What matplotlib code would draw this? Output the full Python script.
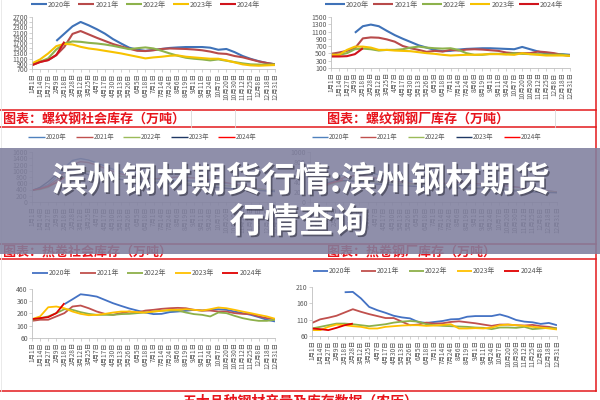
import numpy as np
import matplotlib
matplotlib.use("Agg")
import matplotlib.pyplot as plt
from matplotlib.lines import Line2D
from matplotlib.patches import Rectangle
import matplotlib.patheffects as pe

plt.rcParams['font.family'] = ['Noto Sans CJK SC', 'DejaVu Sans']

W, H = 600, 400
nan = np.nan

# x 轴日期（农历对齐）
dates = ['1月1日', '1月14日', '1月27日', '2月9日', '2月18日', '2月28日', '3月12日', '3月25日',
         '4月7日', '4月17日', '4月30日', '5月13日', '5月26日', '6月5日', '6月18日', '7月1日',
         '7月14日', '7月24日', '8月6日', '8月19日', '9月1日', '9月11日', '9月24日', '10月7日',
         '10月20日', '10月30日', '11月12日', '11月25日', '12月8日', '12月18日', '12月31日']
years = ['2020年', '2021年', '2022年', '2023年', '2024年']

# 螺纹钢社会库存
rs_2020 = [nan, nan, nan, 1780, 2060, 2340, 2510, 2380, 2230, 2060, 1850, 1680, 1520, 1440, 1400, 1430,
           1470, 1510, 1530, 1545, 1545, 1545, 1520, 1440, 1470, 1350, 1200, 1090, 1000, 930, 880]
rs_2021 = [850, 980, 1040, 1235, 1553, 2050, 2160, 2030, 1900, 1780, 1660, 1570, 1480, 1400, 1390, 1420,
           1470, 1490, 1480, 1470, 1450, 1420, 1370, 1300, 1280, 1200, 1150, 1070, 990, 930, 880]
rs_2022 = [880, 980, 1110, 1450, 1680, 1760, 1745, 1706, 1681, 1643, 1592, 1528, 1464, 1500, 1530, 1490,
           1400, 1299, 1209, 1133, 1095, 1069, 1031, 1069, 1018, 967, 916, 878, 870, 870, 878]
rs_2023 = [916, 1069, 1299, 1579, 1668, 1643, 1553, 1490, 1451, 1400, 1350, 1299, 1235, 1172, 1108, 1146,
           1172, 1209, 1222, 1172, 1146, 1120, 1095, 1095, 1031, 955, 878, 840, 827, 840, 853]
rs_2024 = [850, 967, 1044, 1235, 1750] + [nan] * 26

# 螺纹钢钢厂库存
rm_2020 = [nan, nan, nan, 1067, 1247, 1292, 1247, 1121, 1003, 904, 814, 723, 660, 597, 561, 570,
           606, 624, 633, 642, 642, 633, 624, 615, 678, 615, 552, 498, 480, 480, 462]
rm_2021 = [489, 525, 570, 642, 913, 940, 931, 886, 823, 705, 642, 597, 543, 570, 552, 597,
           579, 606, 615, 606, 588, 570, 525, 507, 507, 507, 552, 534, 507, 462, 434]
rm_2022 = [462, 462, 507, 615, 633, 615, 579, 597, 597, 615, 660, 687, 660, 642, 633, 642,
           597, 507, 462, 462, 489, 489, 480, 507, 489, 480, 480, 471, 462, 471, 434]
rm_2023 = [462, 462, 597, 687, 687, 660, 597, 597, 579, 570, 561, 534, 507, 489, 462, 443,
           453, 462, 462, 471, 480, 480, 471, 462, 507, 480, 462, 443, 443, 443, 434]
rm_2024 = [416, 416, 425, 480, 642] + [nan] * 26

# 热卷社会库存
hs_2020 = [380, 450, 560, 800, 1100, 1330, 1390, 1340, 1250, 1150, 1050, 960, 880, 820, 770, 740,
           720, 700, 690, 680, 670, 660, 650, 620, 600, 560, 500, 440, 390, 350, 330]
hs_2021 = [380, 430, 520, 700, 950, 1200, 1290, 1260, 1180, 1080, 980, 900, 830, 780, 750, 740,
           760, 780, 800, 790, 770, 740, 700, 660, 620, 570, 520, 470, 420, 390, 370]
hs_2022 = [370, 400, 470, 620, 800, 950, 1000, 980, 940, 900, 860, 820, 780, 740, 700, 670,
           640, 620, 600, 580, 570, 560, 550, 540, 520, 500, 470, 440, 410, 390, 380]
hs_2023 = [360, 470, 650, 880, 950, 960, 930, 880, 830, 790, 750, 720, 690, 660, 640, 620,
           600, 580, 560, 540, 520, 500, 480, 460, 440, 420, 400, 380, 370, 360, 350]
hs_2024 = [380, 420, 500, 620, 780] + [nan] * 26

# 热卷钢厂库存
hm_2020 = [nan, nan, nan, 450, 560, 620, 640, 600, 560, 520, 480, 450, 420, 400, 380, 370,
           360, 350, 345, 340, 340, 335, 330, 330, 320, 300, 280, 260, 240, 220, 200]
hm_2021 = [300, 320, 350, 420, 480, 520, 530, 510, 480, 450, 420, 400, 380, 360, 350, 360,
           370, 380, 390, 380, 370, 360, 350, 340, 320, 300, 280, 260, 240, 220, 200]
hm_2022 = [290, 300, 330, 380, 420, 430, 420, 410, 400, 390, 380, 370, 360, 350, 340, 330,
           320, 310, 300, 290, 285, 280, 270, 260, 250, 240, 230, 220, 210, 200, 190]
hm_2023 = [300, 330, 380, 420, 430, 420, 400, 380, 360, 350, 340, 330, 320, 310, 300, 295,
           290, 285, 280, 275, 270, 260, 250, 240, 230, 220, 210, 200, 195, 190, 185]
hm_2024 = [290, 310, 350, 400, 440] + [nan] * 26

# 五大品种（左）
fl_2020 = [nan, nan, nan, nan, 336, 376, 417, 409, 398, 371, 344, 322, 301, 284, 268, 255,
           257, 271, 276, 282, 290, 284, 290, 295, 290, 276, 263, 249, 230, 209, 195]
fl_2021 = [200, 209, 209, 236, 263, 317, 325, 303, 276, 257, 249, 263, 276, 268, 284, 290,
           298, 303, 306, 303, 290, 284, 284, 276, 276, 263, 257, 255, 236, 222, 214]
fl_2022 = [209, 222, 236, 263, 295, 290, 271, 257, 249, 249, 249, 255, 257, 263, 268, 276,
           282, 284, 284, 268, 255, 249, 236, 268, 263, 241, 222, 209, 200, 200, 209]
fl_2023 = [214, 236, 311, 317, 303, 276, 257, 246, 249, 257, 268, 276, 276, 271, 268, 276,
           282, 290, 290, 295, 290, 284, 295, 309, 303, 290, 276, 263, 249, 236, 217]
fl_2024 = [214, 222, 230, 263, 344] + [nan] * 26

# 五大品种（右）
fr_2020 = [nan, nan, nan, nan, 194, 195, 175, 149, 139, 131, 122, 117, 114, 103, 100, 103,
           106, 111, 112, 119, 121, 121, 121, 126, 119, 109, 104, 102, 97, 100, 93]
fr_2021 = [100, 111, 116, 122, 132, 142, 134, 127, 121, 115, 115, 104, 93, 95, 101, 98,
           99, 103, 105, 102, 99, 95, 91, 95, 95, 93, 92, 94, 90, 88, 83]
fr_2022 = [83, 88, 93, 98, 98, 96, 93, 90, 93, 96, 101, 104, 106, 104, 96, 93,
           91, 90, 89, 88, 86, 85, 81, 86, 86, 85, 88, 81, 83, 85, 83]
fr_2023 = [78, 78, 88, 95, 93, 90, 88, 83, 83, 88, 90, 92, 93, 93, 91, 92,
           94, 96, 83, 83, 84, 83, 86, 93, 95, 93, 91, 88, 86, 83, 80]
fr_2024 = [83, 81, 78, 85, 93, 98] + [nan] * 25

pal_top = ['#3f72b8', '#b84a4a', '#8db24c', '#f7c200', '#d0141c']
pal_mid = ['#4f81bd', '#c0504d', '#9bbb59', '#1f3864', '#ff0000']
pal_bot = ['#4472c4', '#c0504d', '#8db04a', '#ffc000', '#e00000']

fig = plt.figure(figsize=(6, 4), dpi=100)
x = np.arange(31)


def px_axes(l, t, r, b):
    return fig.add_axes([l / W, 1 - b / H, (r - l) / W, (b - t) / H])


def draw_panel(box, series, colors, ylim, yticks, lw, leg_x, leg_y, leg_fs, pitch, hl):
    ax = px_axes(*box)
    lines = []
    for s, c in zip(series, colors):
        ln, = ax.plot(x, s, color=c, lw=lw, solid_capstyle='butt')
        lines.append(ln)
    ax.set_xlim(0, 30)
    ax.set_ylim(*ylim)
    ax.set_yticks(yticks)
    ax.set_xticks(x)
    ax.set_xticklabels(dates, rotation=90, fontsize=4.6)
    for lab in ax.get_yticklabels():
        lab.set_fontsize(5)
    for sp in ['top', 'right']:
        ax.spines[sp].set_visible(False)
    for sp in ['left', 'bottom']:
        ax.spines[sp].set_color('#bfbfbf')
        ax.spines[sp].set_linewidth(0.6)
    ax.tick_params(length=2, width=0.5, colors='#bfbfbf', labelcolor='#595959', pad=1)
    ax.patch.set_alpha(0)
    # 图例
    em = leg_fs * 100 / 72
    leg = ax.legend(lines, years, ncol=5, frameon=False, fontsize=leg_fs,
                    loc='center left', bbox_to_anchor=(leg_x / W, 1 - leg_y / H),
                    bbox_transform=fig.transFigure, borderpad=0, borderaxespad=0,
                    handlelength=hl / em, handletextpad=0.15,
                    columnspacing=(pitch - hl - 0.15 * em - 3.3 * em) / em)
    for t in leg.get_texts():
        t.set_color('#595959')
    return ax


draw_panel((32, 17, 275, 69), [rs_2020, rs_2021, rs_2022, rs_2023, rs_2024], pal_top,
           (700, 2700), range(700, 2701, 200), 1.5, 31, 5, 5.2, 47.8, 16)
draw_panel((331, 17, 570, 68), [rm_2020, rm_2021, rm_2022, rm_2023, rm_2024], pal_top,
           (100, 1500), range(100, 1501, 200), 1.5, 325, 5, 5.2, 49, 20)
draw_panel((32, 152, 275, 202), [hs_2020, hs_2021, hs_2022, hs_2023, hs_2024], pal_mid,
           (0, 1600), range(0, 1601, 200), 1.0, 28, 137, 4.6, 48, 17)
draw_panel((310, 152, 557, 202), [hm_2020, hm_2021, hm_2022, hm_2023, hm_2024], pal_mid,
           (0, 1000), range(0, 1001, 200), 1.0, 312, 137, 4.6, 48.5, 16)
draw_panel((32, 289, 275, 338), [fl_2020, fl_2021, fl_2022, fl_2023, fl_2024], pal_bot,
           (60, 460), range(60, 461, 100), 1.3, 32, 273, 5.0, 48, 16)
draw_panel((312, 287, 557, 336), [fr_2020, fr_2021, fr_2022, fr_2023, fr_2024], pal_bot,
           (60, 210), range(60, 211, 50), 1.3, 313, 271, 5.0, 48.3, 15)


def hline(y, x0=0, x1=596, color='#e31a1c', lw=1.1):
    fig.add_artist(Line2D([x0 / W, x1 / W], [1 - y / H, 1 - y / H], transform=fig.transFigure,
                          color=color, lw=lw))


def vline(xp, y0, y1, color='#e31a1c', lw=1.1):
    fig.add_artist(Line2D([xp / W, xp / W], [1 - y0 / H, 1 - y1 / H], transform=fig.transFigure,
                          color=color, lw=lw))


# 表格线
hline(110)
hline(127)
hline(244)
hline(259)
hline(391)
vline(596, 0, 391)
vline(1, 0, 391, color='#e6e6e6', lw=0.6)
for xp in [191, 235, 555]:
    vline(xp, 110, 127, color='#d9d9d9', lw=0.6)

cap_kw = dict(color='#e8141c', fontsize=9.4, fontweight='bold', va='center', ha='left')
fig.text(3 / W, 1 - 119 / H, '图表：螺纹钢社会库存（万吨）', **cap_kw)
fig.text(327 / W, 1 - 119 / H, '图表：螺纹钢钢厂库存（万吨）', **cap_kw)
fig.text(3 / W, 1 - 251.5 / H, '图表：热卷社会库存（万吨）', **cap_kw)
fig.text(327 / W, 1 - 251.5 / H, '图表：热卷钢厂库存（万吨）', **cap_kw)
fig.text(300 / W, 1 - 394 / H, '五大品种钢材产量及库存数据（农历）', color='#e8141c', fontsize=10,
         fontweight='bold', va='top', ha='center')

# 标题遮罩
fig.add_artist(Rectangle((0, 1 - 254 / H), 1, 106 / H, transform=fig.transFigure,
                         facecolor='#80809f', alpha=0.88, edgecolor='none', zorder=5))
title_kw = dict(color='white', fontsize=25, fontweight='bold', ha='center', va='center', zorder=6,
                path_effects=[pe.withSimplePatchShadow(offset=(1.2, -1.2), shadow_rgbFace='#303040', alpha=0.6)])
fig.text(301 / W, 1 - 181 / H, '滨州钢材期货行情:滨州钢材期货', **title_kw)
fig.text(299 / W, 1 - 222 / H, '行情查询', **title_kw)

fig.savefig('out.png', dpi=100)
